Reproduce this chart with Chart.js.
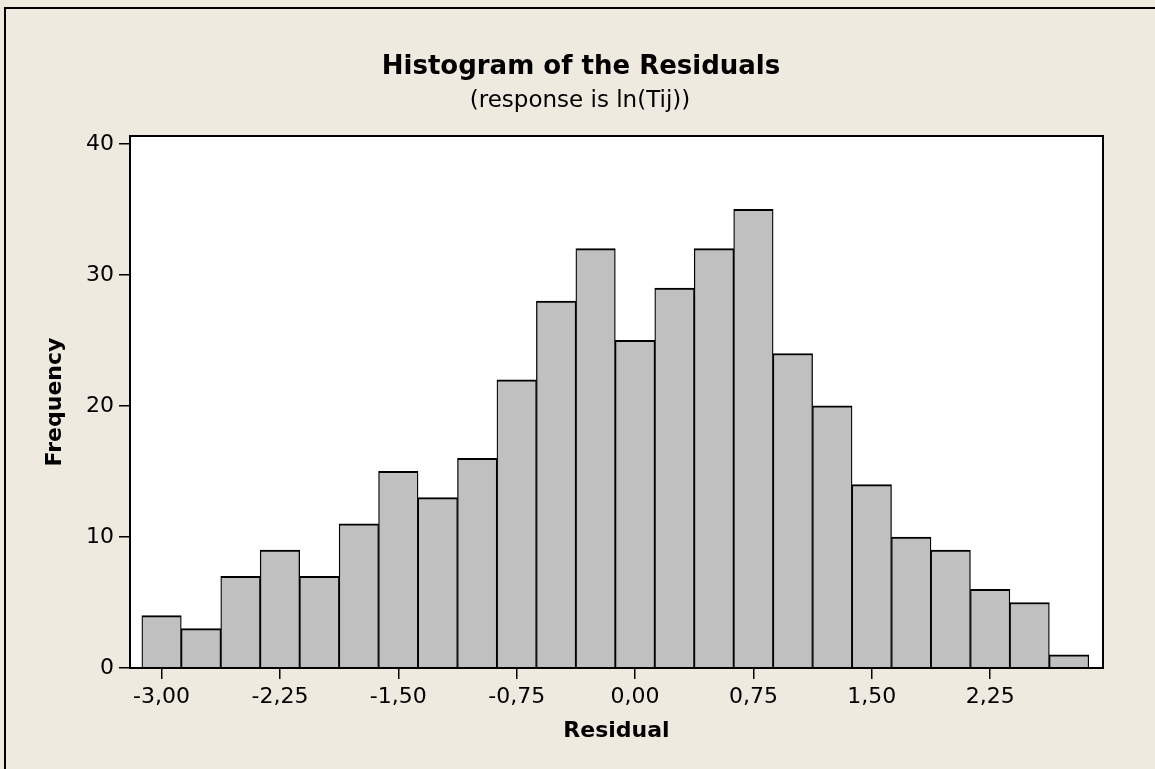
<html>

<head>
    <title>Histogram of the Residuals</title>
    <script src="https://cdn.jsdelivr.net/npm/chart.js@4/dist/chart.umd.min.js"></script>
</head>

<body style="margin: 0;background: #EEEAE0;">
    <canvas id="histChart" width="1155" height="769"></canvas>

    <script>
        // bin centres (width 0.25) and counts per bin
        var binCenters = [-3.00, -2.75, -2.50, -2.25, -2.00, -1.75, -1.50, -1.25, -1.00, -0.75, -0.50, -0.25,
            0.00, 0.25, 0.50, 0.75, 1.00, 1.25, 1.50, 1.75, 2.00, 2.25, 2.50, 2.75];
        var frequencies = [4, 3, 7, 9, 7, 11, 15, 13, 16, 22, 28, 32,
            25, 29, 32, 35, 24, 20, 14, 10, 9, 6, 5, 1];
        var xTickValues = [-3.00, -2.25, -1.50, -0.75, 0.00, 0.75, 1.50, 2.25];
        var yTickValues = [0, 10, 20, 30, 40];

        var chartTitle = 'Histogram of the Residuals';
        var chartSubtitle = '(response is ln(Tij))';

        Chart.defaults.font.family = '"DejaVu Sans"';
        Chart.defaults.color = '#000';

        const paperBg = '#EEEAE0';

        // page background, frame lines, white plot area and the two title lines
        const framePlugin = {
            id: 'framePlugin',
            beforeDraw(chart) {
                const ctx = chart.ctx;
                const a = chart.chartArea;
                ctx.save();
                ctx.fillStyle = paperBg;
                ctx.fillRect(0, 0, chart.width, chart.height);
                ctx.fillStyle = '#fff';
                ctx.fillRect(a.left, a.top, a.right - a.left, a.bottom - a.top);

                ctx.strokeStyle = '#000';
                ctx.lineWidth = 2;
                ctx.beginPath();
                ctx.moveTo(5, chart.height);
                ctx.lineTo(5, 8);
                ctx.lineTo(chart.width, 8);
                ctx.stroke();

                ctx.fillStyle = '#000';
                ctx.textAlign = 'center';
                ctx.textBaseline = 'alphabetic';
                ctx.font = 'bold 26px "DejaVu Sans"';
                ctx.fillText(chartTitle, 581, 74);
                ctx.font = '23px "DejaVu Sans"';
                ctx.fillText(chartSubtitle, 580, 107);
                ctx.restore();
            },
            afterDatasetsDraw(chart) {
                const ctx = chart.ctx;
                const a = chart.chartArea;
                ctx.save();
                ctx.strokeStyle = '#000';
                ctx.lineWidth = 2;
                ctx.strokeRect(a.left, a.top, a.right - a.left, a.bottom - a.top);
                ctx.restore();
            }
        };

        var histData = {
            datasets: [{
                label: 'Frequency',
                data: binCenters.map((c, i) => ({ x: c, y: frequencies[i] })),
                backgroundColor: '#C0C0C0',
                borderColor: '#000',
                borderWidth: { top: 2, left: 1.3, right: 1.3, bottom: 0 },
                borderSkipped: false,
                barPercentage: 1,
                categoryPercentage: 1
            }]
        };

        const histConfig = {
            type: 'bar',
            data: histData,
            plugins: [framePlugin],
            options: {
                responsive: false,
                animation: false,
                layout: {
                    padding: { top: 136, right: 52, left: 0, bottom: 0 }
                },
                plugins: {
                    legend: { display: false },
                    tooltip: { enabled: false }
                },
                scales: {
                    x: {
                        type: 'linear',
                        min: -3.20,
                        max: 2.965,
                        offset: false,
                        afterFit(scale) { scale.height = 101; },
                        afterBuildTicks(scale) {
                            scale.ticks = xTickValues.map(v => ({ value: v }));
                        },
                        grid: {
                            offset: false,
                            drawOnChartArea: false,
                            drawTicks: true,
                            tickLength: 11,
                            color: '#000',
                            lineWidth: 1.5
                        },
                        border: { display: false },
                        ticks: {
                            autoSkip: false,
                            maxRotation: 0,
                            padding: 5,
                            font: { size: 22 },
                            callback: (v) => Number(v).toFixed(2).replace('.', ',')
                        },
                        title: {
                            display: true,
                            text: 'Residual',
                            font: { size: 22, weight: 'bold' },
                            padding: { top: 0, bottom: 25 }
                        }
                    },
                    y: {
                        min: 0,
                        max: 40.6,
                        afterFit(scale) { scale.width = 130; },
                        afterBuildTicks(scale) {
                            scale.ticks = yTickValues.map(v => ({ value: v }));
                        },
                        grid: {
                            drawOnChartArea: false,
                            drawTicks: true,
                            tickLength: 11,
                            color: '#000',
                            lineWidth: 1.5
                        },
                        border: { display: false },
                        ticks: {
                            padding: 5,
                            font: { size: 22 }
                        },
                        title: {
                            display: true,
                            text: 'Frequency',
                            font: { size: 22, weight: 'bold' },
                            padding: { top: 42, bottom: 0 }
                        }
                    }
                }
            }
        };

        var histCtx = document.getElementById("histChart").getContext("2d");
        var histChart = new Chart(histCtx, histConfig);
    </script>
</body>

</html>
